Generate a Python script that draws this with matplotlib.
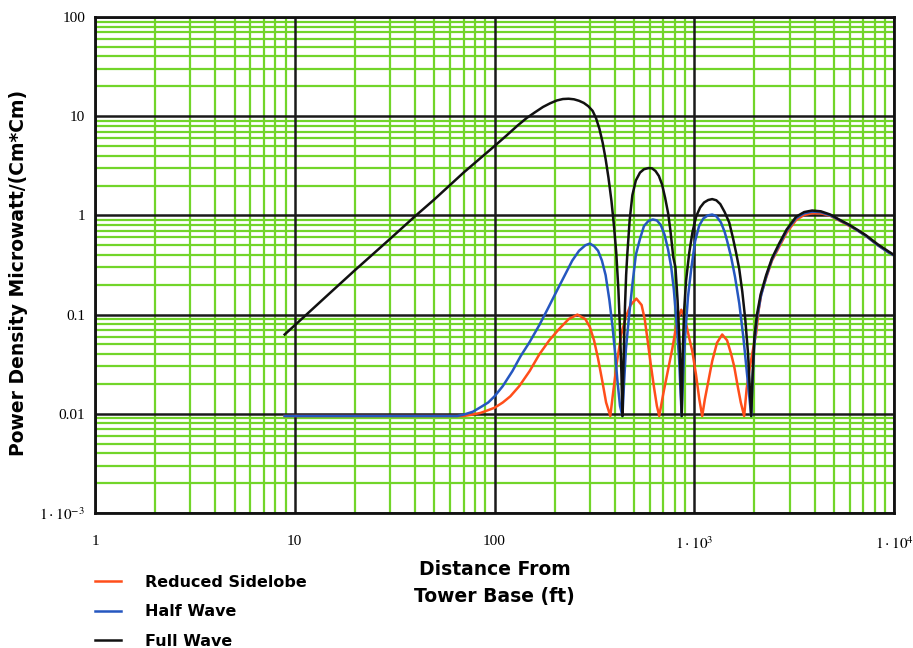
import matplotlib
matplotlib.use("Agg")
import matplotlib.pyplot as plt
from matplotlib.ticker import FixedLocator, FixedFormatter, LogLocator, NullFormatter

# Values (log-log), x in ft, y in microwatt/cm^2
full_x = [8.9, 10, 15, 20, 30, 40, 50, 70, 100, 115, 130, 145, 160, 175, 190, 205, 220, 235, 250, 265, 280, 295,
          310, 322, 335, 348, 360, 372, 385, 396, 407, 417, 425, 432, 437,
          442, 450, 456, 462, 475, 490, 510, 535, 560, 590, 615, 640, 665, 690, 715, 740, 760, 785, 805, 825, 845, 865,
          875, 890, 910, 944, 980, 1023, 1070, 1120, 1175, 1230, 1290, 1350, 1420, 1496, 1560, 1620, 1679, 1740,
          1800, 1860, 1928,
          1960, 2000, 2060, 2150, 2291, 2450, 2660, 2900, 3236, 3550, 3890, 4300, 4800, 5309, 6000, 6600, 7244,
          8300, 9441, 10000]
full_y = [0.063, 0.078, 0.165, 0.28, 0.58, 0.98, 1.45, 2.7, 5.0, 6.4, 8.0, 9.6, 11.0, 12.4, 13.5, 14.4, 14.9, 15.0, 14.8, 14.3, 13.6, 12.6,
          11.3, 9.6, 7.5, 5.4, 3.7, 2.4, 1.4, 0.8, 0.42, 0.18, 0.07, 0.025, 0.0095,
          0.03, 0.12, 0.25, 0.4, 0.9, 1.6, 2.25, 2.7, 2.92, 3.0, 2.98, 2.8, 2.5, 2.05, 1.5, 1.05, 0.7, 0.38, 0.3, 0.14, 0.05, 0.0095,
          0.04, 0.11, 0.22, 0.42, 0.68, 0.98, 1.2, 1.35, 1.43, 1.46, 1.42, 1.3, 1.08, 0.85, 0.6, 0.42, 0.29, 0.17,
          0.09, 0.04, 0.0095,
          0.025, 0.06, 0.1, 0.16, 0.25, 0.37, 0.52, 0.72, 0.97, 1.08, 1.12, 1.1, 1.02, 0.91, 0.8, 0.71, 0.63,
          0.51, 0.43, 0.4]

half_x = [8.9, 30, 65, 70, 78, 86, 93, 100, 110, 123, 135, 150, 168, 185, 204, 225, 245, 265, 285, 300, 315, 330,
          345, 360, 376, 390, 402, 412, 425, 437,
          445, 455, 470, 490, 510, 535, 560, 590, 620, 650, 680, 710, 740, 767, 790, 815, 840, 865,
          880, 900, 930, 966, 1010, 1059, 1110, 1170, 1230, 1290, 1360, 1420, 1462, 1530, 1600, 1680, 1760, 1850, 1928,
          1960, 2000, 2060, 2150, 2291, 2450, 2660, 2900, 3236, 3550, 3890, 4300, 4800, 5309, 6000, 6600, 7244,
          8300, 9441, 10000]
half_y = [0.0095, 0.0095, 0.0095, 0.0098, 0.0105, 0.0118, 0.013, 0.015, 0.019, 0.027, 0.038, 0.053, 0.079, 0.115, 0.17, 0.25, 0.35, 0.44, 0.5, 0.52, 0.49, 0.44,
          0.35, 0.25, 0.14, 0.075, 0.04, 0.022, 0.012, 0.0095,
          0.02, 0.045, 0.09, 0.2, 0.4, 0.58, 0.78, 0.88, 0.91, 0.89, 0.8, 0.64, 0.45, 0.3, 0.18, 0.085, 0.035, 0.0095,
          0.025, 0.06, 0.15, 0.29, 0.55, 0.79, 0.93, 1.0, 1.02, 0.98, 0.85, 0.68, 0.55, 0.38, 0.24, 0.13, 0.06, 0.022, 0.0095,
          0.022, 0.05, 0.09, 0.15, 0.24, 0.36, 0.5, 0.7, 0.94, 1.05, 1.09, 1.08, 1.0, 0.9, 0.79, 0.7, 0.62,
          0.5, 0.42, 0.395]

side_x = [8.9, 50, 70, 77, 85, 92, 100, 110, 120, 133, 150, 168, 188, 211, 235, 260, 285, 300, 315, 330, 347, 362, 380,
          392, 410, 431, 455, 480, 513, 545, 565, 582, 605, 630, 650, 668,
          700, 740, 776, 820, 861, 900, 940, 977, 1020, 1060, 1096,
          1130, 1180, 1230, 1300, 1380, 1460, 1530, 1585, 1650, 1710, 1778,
          1830, 1900, 1970, 2042, 2100, 2163, 2291, 2450, 2660, 2900, 3236, 3550, 3890, 4300, 4800, 5309, 6000,
          6600, 7244, 8300, 9441, 10000]
side_y = [0.0095, 0.0095, 0.0095, 0.0098, 0.0102, 0.0108, 0.0115, 0.013, 0.015, 0.019, 0.027, 0.04, 0.055, 0.072, 0.09, 0.1, 0.09, 0.075, 0.055, 0.036, 0.021, 0.013, 0.0095,
          0.016, 0.033, 0.063, 0.095, 0.125, 0.145, 0.125, 0.09, 0.058, 0.032, 0.018, 0.012, 0.0095,
          0.016, 0.028, 0.045, 0.085, 0.112, 0.09, 0.06, 0.043, 0.025, 0.014, 0.0095,
          0.014, 0.022, 0.034, 0.052, 0.063, 0.055, 0.04, 0.03, 0.019, 0.013, 0.0095,
          0.018, 0.03, 0.045, 0.065, 0.11, 0.16, 0.235, 0.35, 0.48, 0.67, 0.9, 1.01, 1.05, 1.05, 0.99, 0.89, 0.78,
          0.7, 0.62, 0.5, 0.42, 0.395]

x_ticks = [1, 10, 100, 1000, 10000]
x_tick_labels = ['1', '10', '100', r'$1\cdot10^{3}$', r'$1\cdot10^{4}$']
y_ticks = [0.001, 0.01, 0.1, 1, 10, 100]
y_tick_labels = [r'$1\cdot10^{-3}$', '0.01', '0.1', '1', '10', '100']

plt.rcParams['mathtext.fontset'] = 'stix'
bold_family = ['DejaVu Sans']

fig = plt.figure(figsize=(9.13, 6.48), dpi=100)
ax = fig.add_axes([95 / 913, 1 - 513 / 648, 799 / 913, 496 / 648])

ax.plot(side_x, side_y, color='#ff4e1a', lw=1.8, label='Reduced Sidelobe', zorder=3)
ax.plot(half_x, half_y, color='#2557c0', lw=1.8, label='Half Wave', zorder=4)
ax.plot(full_x, full_y, color='#111111', lw=1.8, label='Full Wave', zorder=5)

ax.set_xscale('log')
ax.set_yscale('log')
ax.set_xlim(1, 1e4)
ax.set_ylim(1e-3, 100)

ax.xaxis.set_major_locator(FixedLocator(x_ticks))
ax.xaxis.set_major_formatter(FixedFormatter(x_tick_labels))
ax.yaxis.set_major_locator(FixedLocator(y_ticks))
ax.yaxis.set_major_formatter(FixedFormatter(y_tick_labels))
ax.xaxis.set_minor_locator(LogLocator(base=10, subs=range(2, 10), numticks=20))
ax.yaxis.set_minor_locator(LogLocator(base=10, subs=range(2, 10), numticks=20))
ax.xaxis.set_minor_formatter(NullFormatter())
ax.yaxis.set_minor_formatter(NullFormatter())

# green minor grid, black decade lines on top of it
ax.grid(which='minor', color='#72d52a', lw=1.6)
ax.set_axisbelow(True)
for xt in x_ticks:
    ax.axvline(xt, color='#1a1a1a', lw=1.8, zorder=1)
for yt in y_ticks:
    ax.axhline(yt, color='#1a1a1a', lw=1.8, zorder=1)

ax.tick_params(which='both', length=0)
ax.tick_params(axis='x', pad=16, labelsize=11)
ax.tick_params(axis='y', pad=7, labelsize=11)
for lab in ax.get_xticklabels() + ax.get_yticklabels():
    lab.set_family('Liberation Serif')
for s in ax.spines.values():
    s.set_linewidth(2)
    s.set_color('#111111')
    s.set_zorder(6)

ax.set_xlabel('Distance From\nTower Base (ft)', fontsize=13.5, fontweight='bold',
              family=bold_family, labelpad=6, linespacing=1.5)
ax.set_ylabel('Power Density Microwatt/(Cm*Cm)', fontsize=13.5, fontweight='bold',
              family=bold_family)
ax.yaxis.set_label_coords(-67 / 799, 0.485)

h, l = ax.get_legend_handles_labels()
fig.legend(h, l, loc='upper left',
           bbox_to_anchor=(95 / 913, 1 - 575 / 648), frameon=False,
           prop={'family': bold_family, 'weight': 'bold', 'size': 11.5},
           handlelength=1.6, handletextpad=1.5, labelspacing=0.9,
           borderaxespad=0, borderpad=0)

fig.savefig('out.png', dpi=100)
